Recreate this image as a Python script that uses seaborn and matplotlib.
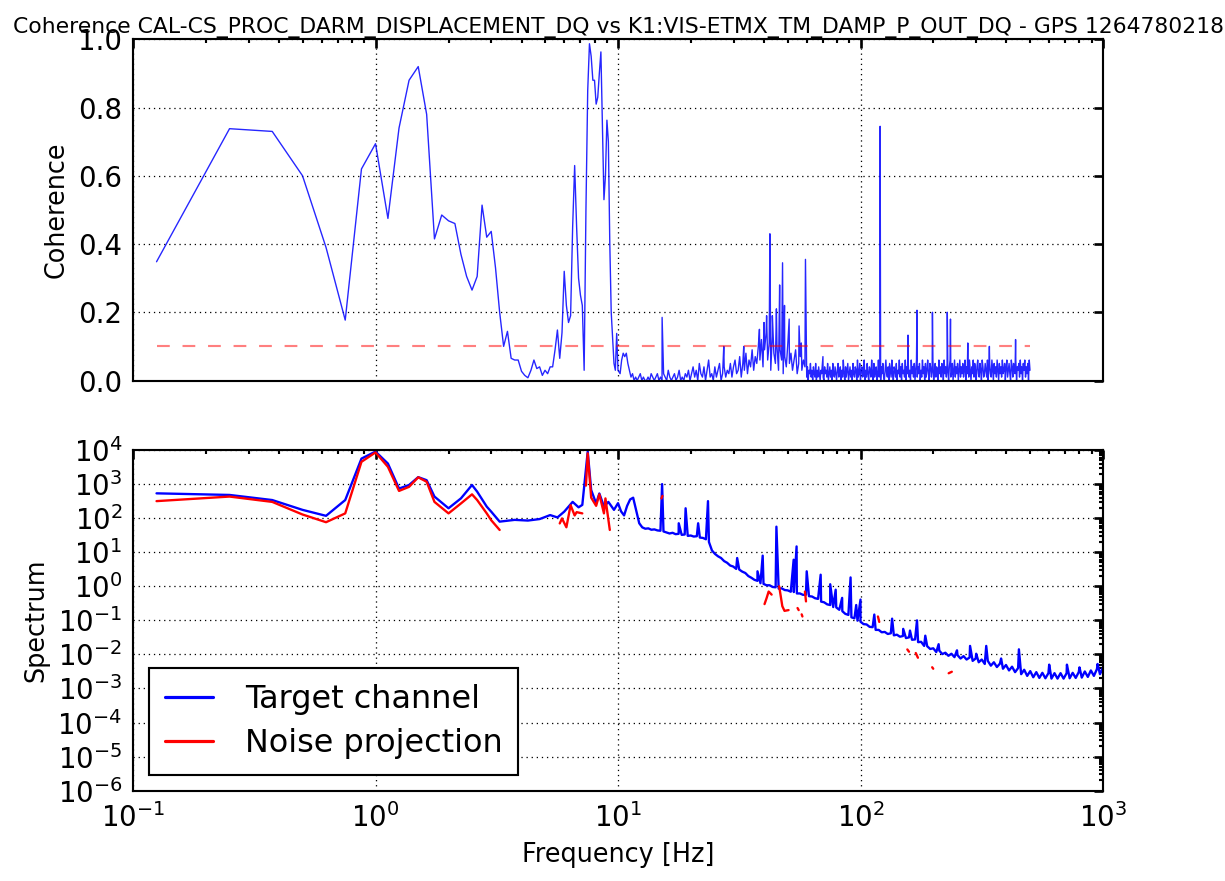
import numpy as np
import pandas as pd
import matplotlib
matplotlib.use("Agg")
import matplotlib.pyplot as plt
import seaborn as sns
from matplotlib.ticker import LogLocator, NullFormatter, MultipleLocator

TITLE = ("Coherence CAL-CS_PROC_DARM_DISPLACEMENT_DQ vs "
         "K1:VIS-ETMX_TM_DAMP_P_OUT_DQ - GPS 1264780218")
THRESHOLD = 0.1
BIN_WIDTH = 0.125  # Hz

# ---------------- coherence ----------------
# low-frequency bins, 0.125 Hz apart starting at 0.125 Hz
coh_low = [
    0.348, 0.738, 0.730, 0.600, 0.390, 0.177, 0.620, 0.694,
    0.475, 0.740, 0.880, 0.920, 0.780, 0.415, 0.485, 0.468,
    0.460, 0.370, 0.305, 0.265, 0.305, 0.514, 0.420, 0.437,
    0.330, 0.200, 0.100, 0.144, 0.065, 0.060, 0.060, 0.027,
    0.015, 0.008, 0.030, 0.060, 0.035, 0.040, 0.015, 0.030,
    0.020, 0.040, 0.040, 0.090, 0.148, 0.065, 0.140, 0.320,
    0.220, 0.170, 0.190, 0.450, 0.630, 0.450, 0.300, 0.250,
    0.220, 0.030, 0.500, 0.850, 0.987, 0.950, 0.880, 0.880,
    0.810, 0.830, 0.900, 0.963, 0.750, 0.530, 0.600, 0.763,
    0.700, 0.400, 0.200, 0.124, 0.050, 0.030, 0.138, 0.030,
]
# coherence floor 10.2 .. 60 Hz (hundredths), log-spaced bins
coh_floor_a_pct = [
    2, 6, 8, 7, 8, 5, 3, 1, 2, 0, 1, 0, 1, 2, 0, 1, 0, 0, 1, 0, 2, 1,
    0, 1, 2, 0, 1, 0, 2, 1, 0, 3, 1, 0, 1, 2, 0, 1, 3, 0, 1, 0, 2, 1,
    3, 0, 2, 4, 1, 3, 0, 5, 2, 1, 4, 0, 3, 6, 1, 2, 0, 4, 1, 3, 5, 0, 2, 4, 1, 3,
    2, 5, 1, 4, 6, 2, 3, 7, 1, 5, 3, 8, 2, 6, 4, 9, 3, 7, 5, 10,
    6, 12, 4, 9, 14, 6, 11, 3, 13, 8, 5, 10, 3, 9, 6, 2, 7, 4, 11, 5,
    8, 3, 6, 9, 2, 5, 7, 3, 6, 4,
]
# coherence floor 60 .. 500 Hz (hundredths), log-spaced bins
coh_floor_b_pct = [
    1, 4, 0, 3, 2, 5, 1, 3, 0, 4, 2, 1, 5, 0, 3, 1, 4, 2, 0, 3,
    2, 5, 1, 0, 4, 2, 3, 1, 5, 0, 2, 4, 1, 3, 0, 5, 2, 1, 4, 2,
    0, 3, 5, 1, 2, 4, 0, 3, 1, 6, 2, 0, 4, 1, 3, 5, 0, 2, 4, 1,
    3, 0, 5, 2, 1, 4, 3, 0, 6, 1, 2, 5, 0, 3, 4, 1, 2, 6, 0, 3,
    1, 5, 2, 0, 4, 3, 1, 6, 2, 0, 5, 1, 3, 4, 0, 2, 6, 1, 3, 0,
    4, 2, 5, 1, 0, 3, 6, 2, 1, 4, 0, 5, 3, 1, 6, 2, 0, 4, 3, 1,
    5, 0, 3, 2, 6, 1, 4, 0, 5, 2, 3, 1, 6, 0, 4, 2, 5, 1, 3, 0,
    6, 2, 4, 1, 5, 0, 3, 6, 1, 4, 2, 5, 0, 3, 1, 6, 2, 4, 0, 5,
    1, 3, 6, 2, 0, 5, 4, 1, 3, 6, 0, 2, 5, 1, 4, 3, 0, 6, 2, 4,
    1, 5, 3, 0, 6, 2, 4, 1, 5, 3, 0, 4, 6, 1, 2, 5, 0, 3, 6, 1,
    4, 2, 5, 0, 3, 6, 1, 4, 2, 5, 1, 3, 6, 0, 4, 2, 5, 1, 6, 3,
    0, 4, 2, 6, 1, 5, 3, 0, 4, 6, 2, 1, 5, 3, 0, 6, 4, 1, 2, 5,
    3, 1, 6, 0, 4, 5, 2, 1, 6, 3, 0, 5, 2, 4, 1, 6, 3, 0, 5, 2,
    4, 1, 6, 2, 3, 5, 0, 4, 6, 1, 3, 5, 2, 0, 6, 4, 1, 5, 3, 2,
    6, 0, 4, 3, 5, 1, 6, 2, 4, 0, 5, 3, 6, 1, 4, 2, 5, 0, 6, 3,
]
# narrow coherent lines above 10 Hz
coh_line_freq = [15.2, 27.3, 33.0, 38.3, 40.0, 41.0, 42.3, 43.3, 45.0,
                 46.4, 47.7, 48.6, 50.8, 55.8, 57.0, 59.3, 70.0, 120.5,
                 157.0, 171.0, 198.0, 228.0, 235.0, 277.0, 340.0, 436.0]
coh_line_val = [0.185, 0.10, 0.10, 0.15, 0.17, 0.19, 0.43, 0.19, 0.21,
                0.28, 0.345, 0.22, 0.18, 0.16, 0.11, 0.355, 0.07, 0.745,
                0.133, 0.206, 0.20, 0.20, 0.18, 0.11, 0.10, 0.12]

# ---------------- spectra ----------------
target_low_freq = [0.125, 0.25, 0.375, 0.5, 0.625, 0.75, 0.875, 1.0, 1.125,
                   1.25, 1.375, 1.5, 1.625, 1.75, 2.0, 2.25, 2.5, 2.625,
                   2.875, 3.0, 3.25, 3.75, 4.25, 4.75, 5.25, 5.625, 6.0,
                   6.5, 6.875, 7.125, 7.5, 7.75, 8.125, 8.375, 8.75, 9.125,
                   9.625]
target_low_val = [535, 480, 340, 175, 117, 340, 5600, 9000, 4000,
                  740, 940, 1600, 1300, 430, 195, 380, 940, 600,
                  218, 155, 79, 89, 85, 94, 123, 105, 155,
                  300, 208, 245, 9000, 670, 270, 530, 220, 300,
                  175]
# target floor from 10 Hz to 1 kHz, log10 of the spectrum, log-spaced bins
target_floor_log10 = [
    2.44, 2.20, 2.08, 2.36, 2.55, 2.60, 2.22, 1.85, 1.73, 1.69,
    1.70, 1.66, 1.67, 1.64, 1.63, 1.61, 1.58, 1.55, 1.57, 1.53,
    1.54, 1.51, 1.52, 1.48, 1.49, 1.46, 1.47, 1.43, 1.42, 1.38,
    1.30, 1.05, 0.95, 0.88, 0.83, 0.74, 0.69, 0.61, 0.58, 0.51,
    0.49, 0.43, 0.39, 0.30, 0.25, 0.19, 0.16, 0.09, 0.07, 0.03,
    0.03, -0.02, -0.03, -0.07, -0.06, -0.11, -0.12, -0.16, -0.17, -0.21,
    -0.21, -0.25, -0.25, -0.29, -0.30, -0.35, -0.37, -0.45, -0.47, -0.53,
    -0.55, -0.61, -0.62, -0.69, -0.73, -0.81, -0.84, -0.91, -0.94, -1.01,
    -1.04, -1.11, -1.12, -1.19, -1.20, -1.28, -1.28, -1.35, -1.34, -1.40,
    -1.38, -1.44, -1.42, -1.48, -1.46, -1.52, -1.50, -1.57, -1.56, -1.64,
    -1.63, -1.75, -1.76, -1.84, -1.82, -1.93, -1.89, -1.99, -1.95, -2.04,
    -1.98, -2.08, -2.02, -2.12, -2.05, -2.15, -2.09, -2.19, -2.12, -2.23,
    -2.15, -2.28, -2.19, -2.33, -2.23, -2.37, -2.27, -2.42, -2.31, -2.47,
    -2.36, -2.52, -2.40, -2.58, -2.45, -2.63, -2.49, -2.67, -2.52, -2.69,
    -2.54, -2.70, -2.55, -2.71, -2.55, -2.71, -2.55, -2.71, -2.55, -2.70,
    -2.54, -2.69, -2.52, -2.68, -2.50, -2.66, -2.47, -2.63, -2.43, -2.58,
    -2.38,
]
# spectral lines above 10 Hz (frequency, log10 of the spectrum)
target_line_freq = [15.2, 17.8, 19.0, 21.4, 23.5, 31.0, 37.6, 39.5, 45.0,
                    53.0, 54.5, 60.0, 68.5, 75.0, 79.0, 84.0, 91.0, 96.0,
                    100.0, 114.0, 135.0, 150.0, 160.0, 171.0, 185.0, 210.0,
                    250.0, 283.0, 300.0, 330.0, 380.0, 450.0, 600.0, 710.0,
                    800.0, 950.0]
target_line_log10 = [3.0, 1.85, 2.29, 1.85, 2.5, 0.83, 0.44, 0.9, 1.75,
                     0.78, 1.17, 0.44, 0.34, 0.06, -0.1, -0.34, 0.26, -0.55,
                     -0.39, -0.83, -0.95, -1.25, -1.3, -1.0, -1.45, -1.7,
                     -1.88, -1.75, -1.98, -1.75, -2.12, -1.85, -2.3, -2.3,
                     -2.38, -2.28]

# noise projection, only where the coherence is above threshold (NaN = gap)
noise_freq = [0.125, 0.25, 0.375, 0.5, 0.625, 0.75, 0.875, 1.0, 1.125, 1.25,
              1.375, 1.5, 1.625, 1.75, 2.0, 2.25, 2.5, 2.625, 2.875, 3.0,
              3.25, np.nan,
              5.75, 5.875, 6.125, 6.375, 6.625, 6.75, 7.125, np.nan,
              7.375, 7.5, 7.75, 8.125, 8.375, 8.75, 8.875, 9.25, np.nan,
              15.1, 15.25, np.nan,
              40.2, 41.0, 41.8, 43.0, np.nan,
              46.2, 47.6, 48.6, 50.5, np.nan,
              55.0, 55.6, np.nan, 57.2, 57.6, np.nan, 59.0, 59.6, np.nan,
              118.0, 119.5, np.nan, 156.0, 158.5, np.nan, 169.0, 172.5, np.nan,
              197.5, 199.5, np.nan, 231.0, 238.0]
noise_val = [316, 430, 300, 128, 76, 138, 4500, 8500, 3200, 630,
             830, 1580, 1170, 300, 138, 270, 500, 340, 138, 87,
             45, np.nan,
             70, 98, 54, 240, 120, 150, 138, np.nan,
             900, 8000, 400, 230, 500, 138, 380, 45, np.nan,
             380, 450, np.nan,
             0.30, 0.45, 0.70, 0.57, np.nan,
             1.0, 0.26, 0.19, 0.20, np.nan,
             0.23, 0.20, np.nan, 0.15, 0.13, np.nan, 0.70, 0.36, np.nan,
             0.13, 0.09, np.nan, 0.014, 0.012, np.nan, 0.011, 0.008, np.nan,
             0.0042, 0.0038, np.nan, 0.0028, 0.0031]

# ---------------- assemble tables ----------------
coh_low_freq = np.arange(1, len(coh_low) + 1) * BIN_WIDTH
coh_floor_a_freq = np.logspace(np.log10(10.2), np.log10(59.0), len(coh_floor_a_pct))
coh_floor_b_freq = np.logspace(np.log10(60.0), np.log10(500.0), len(coh_floor_b_pct))
coh = pd.DataFrame({
    "freq": np.concatenate([coh_low_freq, coh_floor_a_freq, coh_floor_b_freq,
                            coh_line_freq]),
    "coh": np.concatenate([coh_low,
                           np.array(coh_floor_a_pct) / 100.0,
                           np.array(coh_floor_b_pct) / 100.0,
                           coh_line_val]),
}).sort_values("freq")

target_floor_freq = np.logspace(1.0, 3.0, len(target_floor_log10))
target = pd.DataFrame({
    "freq": np.concatenate([target_low_freq, target_floor_freq, target_line_freq]),
    "asd": np.concatenate([target_low_val,
                           10.0 ** np.array(target_floor_log10),
                           10.0 ** np.array(target_line_log10)]),
}).sort_values("freq")

noise = pd.DataFrame({"freq": noise_freq, "asd": noise_val})
noise["segment"] = noise["freq"].isna().cumsum()
noise = noise.dropna()

thresh = pd.DataFrame({"freq": [coh["freq"].min(), coh["freq"].max()],
                       "coh": [THRESHOLD, THRESHOLD]})

# ---------------- style ----------------
sns.set_theme(style="white")
plt.rcParams.update({
    "font.family": ["DejaVu Sans"],
    "axes.edgecolor": "black",
    "axes.linewidth": 1.0,
    "xtick.direction": "in",
    "ytick.direction": "in",
    "xtick.top": True,
    "ytick.right": True,
    "xtick.major.size": 4,
    "ytick.major.size": 4,
    "xtick.minor.size": 2,
    "ytick.minor.size": 2,
    "xtick.major.pad": 6,
    "ytick.major.pad": 5,
    "xtick.color": "black",
    "ytick.color": "black",
    "xtick.labelsize": 13,
    "ytick.labelsize": 13,
    "axes.labelsize": 12,
    "axes.labelcolor": "black",
    "text.color": "black",
})

fig = plt.figure(figsize=(8.0, 881 / 153.125), dpi=153.125)
ax1 = fig.add_axes([0.1086, 0.5681, 0.7918, 0.3873])
ax2 = fig.add_axes([0.1086, 0.1025, 0.7918, 0.3867])

grid_kw = dict(color="black", linestyle=(0, (1, 3)), linewidth=0.6)
log_minor = dict(base=10, subs=np.arange(2, 10), numticks=200)

# top: coherence
ax1.set_xscale("log")
sns.lineplot(data=coh, x="freq", y="coh", ax=ax1, color="blue", alpha=0.85,
             linewidth=0.65, estimator=None, sort=False, legend=False)
sns.lineplot(data=thresh, x="freq", y="coh", ax=ax1, color="red", alpha=0.5,
             linewidth=1.0, linestyle=(0, (6, 6)), estimator=None, legend=False)
ax1.set_xlim(0.1, 1000)
ax1.set_ylim(0, 1)
ax1.yaxis.set_major_locator(MultipleLocator(0.2))
ax1.xaxis.set_major_locator(LogLocator(base=10, numticks=10))
ax1.xaxis.set_minor_locator(LogLocator(**log_minor))
ax1.tick_params(labelbottom=False)
ax1.set_xlabel("")
ax1.set_ylabel("Coherence")
ax1.grid(True, which="major", **grid_kw)
ax1.set_title(TITLE, fontsize=10.3, pad=3)

# bottom: spectra
ax2.set_xscale("log")
ax2.set_yscale("log")
sns.lineplot(data=target, x="freq", y="asd", ax=ax2, color="blue",
             linewidth=1.1, estimator=None, sort=False, legend=False)
sns.lineplot(data=noise, x="freq", y="asd", units="segment", ax=ax2,
             color="red", linewidth=1.1, estimator=None, sort=False,
             legend=False)
ax2.set_xlim(0.1, 1000)
ax2.set_ylim(1e-6, 1e4)
ax2.xaxis.set_major_locator(LogLocator(base=10, numticks=10))
ax2.xaxis.set_minor_locator(LogLocator(**log_minor))
ax2.xaxis.set_minor_formatter(NullFormatter())
ax2.yaxis.set_major_locator(LogLocator(base=10, numticks=20))
ax2.yaxis.set_minor_locator(LogLocator(**log_minor))
ax2.yaxis.set_minor_formatter(NullFormatter())
ax2.set_xlabel("Frequency [Hz]")
ax2.set_ylabel("Spectrum")
ax2.grid(True, which="major", **grid_kw)

target_line, noise_line = ax2.get_lines()[0], ax2.get_lines()[1]
leg = ax2.legend([target_line, noise_line], ["Target channel", "Noise projection"],
                 loc="lower left", fontsize=15, frameon=True, fancybox=False,
                 edgecolor="black", framealpha=1.0, handlelength=1.5,
                 handletextpad=1.0, borderpad=0.5, labelspacing=0.4)
leg.get_frame().set_linewidth(1.0)
for line in leg.get_lines():
    line.set_linewidth(1.5)

fig.savefig("out.png", dpi=153.125)
